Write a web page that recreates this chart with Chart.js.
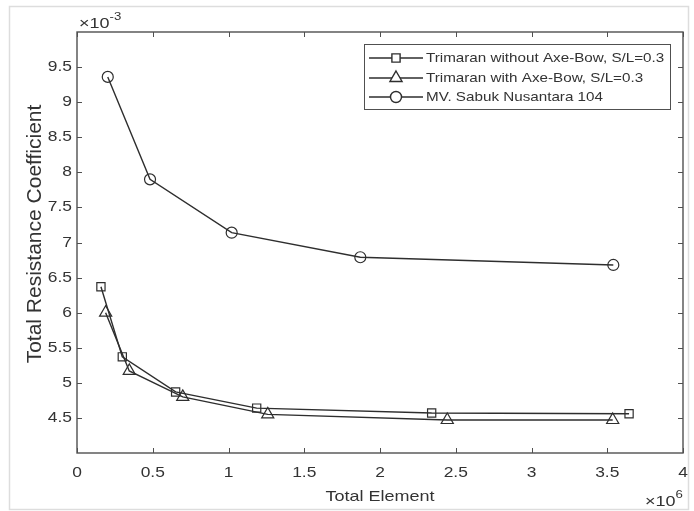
<!DOCTYPE html>
<html>
<head>
<meta charset="utf-8">
<script src="https://cdn.jsdelivr.net/npm/chart.js@4.4.0/dist/chart.umd.min.js"></script>
<style>
  html, body { margin: 0; padding: 0; background: #ffffff; }
  #wrap { width: 694px; height: 511px; }
</style>
</head>
<body>
<div id="wrap"><canvas id="c" width="694" height="511"></canvas></div>
<script>
// Total element count (x 10^6) against total resistance coefficient (x 10^-3)
const elementsWithoutAxeBow = [0.158, 0.299, 0.651, 1.186, 2.341, 3.644];
const ctWithoutAxeBow       = [6.37, 5.37, 4.87, 4.64, 4.57, 4.56];

const elementsWithAxeBow = [0.189, 0.345, 0.698, 1.259, 2.444, 3.536];
const ctWithAxeBow       = [6.00, 5.17, 4.80, 4.55, 4.47, 4.47];

const elementsSabuk = [0.203, 0.482, 1.021, 1.870, 3.540];
const ctSabuk       = [9.36, 7.90, 7.14, 6.79, 6.68];

const seriesNames = [
  'Trimaran without Axe-Bow, S/L=0.3',
  'Trimaran with Axe-Bow, S/L=0.3',
  'MV. Sabuk Nusantara 104'
];

const xTickValues = [0, 0.5, 1, 1.5, 2, 2.5, 3, 3.5, 4];
const xTickLabels = ['0', '0.5', '1', '1.5', '2', '2.5', '3', '3.5', '4'];
const yTickValues = [4.5, 5, 5.5, 6, 6.5, 7, 7.5, 8, 8.5, 9, 9.5];
const yTickLabels = ['4.5', '5', '5.5', '6', '6.5', '7', '7.5', '8', '8.5', '9', '9.5'];

const xTitle = 'Total Element';
const yTitle = 'Total Resistance Coefficient';

const LINE = '#2e2e2e';
const AXIS = '#505050';
const TEXT = '#333333';
const FONT = '"Liberation Sans", Arial, sans-serif';
const SX = 1.2; // horizontal stretch of the lettering

function toPoints(xs, ys) {
  return xs.map((x, i) => ({ x: x, y: ys[i] }));
}

function series(label, xs, ys, style, radius) {
  return {
    label: label,
    data: toPoints(xs, ys),
    showLine: true,
    borderColor: LINE,
    borderWidth: 1.4,
    pointStyle: style,
    pointRadius: radius,
    pointHoverRadius: radius,
    pointBorderColor: LINE,
    pointBorderWidth: 1.2,
    pointBackgroundColor: 'rgba(0,0,0,0)'
  };
}

const datasets = [
  series(seriesNames[0], elementsWithoutAxeBow, ctWithoutAxeBow, 'rect', 5.8),
  series(seriesNames[1], elementsWithAxeBow, ctWithAxeBow, 'triangle', 7),
  series(seriesNames[2], elementsSabuk, ctSabuk, 'circle', 5.5)
];

function text(ctx, str, x, y, align, baseline, size, rotate, sx) {
  ctx.save();
  ctx.translate(x, y);
  if (rotate) {
    ctx.rotate(-Math.PI / 2);
  } else {
    ctx.scale(sx || SX, 1);
  }
  ctx.font = size + 'px ' + FONT;
  ctx.fillStyle = TEXT;
  ctx.textAlign = align;
  ctx.textBaseline = baseline;
  ctx.fillText(str, 0, 0);
  ctx.restore();
}

// "x10^n" multiplier label, anchored at the left end of its baseline
function multiplier(ctx, exp, x, y, size) {
  ctx.save();
  ctx.font = size + 'px ' + FONT;
  const w = ctx.measureText('\u00d710').width * SX;
  ctx.restore();
  text(ctx, '\u00d710', x, y, 'left', 'alphabetic', size, false);
  text(ctx, exp, x + w, y - 8, 'left', 'alphabetic', Math.round(size * 0.75), false);
}

const axesPlugin = {
  id: 'matlabAxes',
  beforeDraw(chart) {
    const ctx = chart.ctx;
    ctx.save();
    ctx.fillStyle = '#ffffff';
    ctx.fillRect(0, 0, chart.width, chart.height);
    ctx.strokeStyle = '#dddddd';
    ctx.lineWidth = 1.5;
    ctx.strokeRect(9.5, 6.5, 679, 503);
    ctx.restore();
  },
  afterDatasetsDraw(chart) {
    const ctx = chart.ctx;
    const a = chart.chartArea;
    const xs = chart.scales.x;
    const ys = chart.scales.y;

    ctx.save();
    ctx.strokeStyle = AXIS;
    ctx.lineWidth = 1.4;
    ctx.strokeRect(a.left, a.top, a.right - a.left, a.bottom - a.top);

    // inward tick marks on all four sides
    const tl = 5;
    ctx.lineWidth = 1;
    ctx.beginPath();
    xTickValues.forEach(v => {
      const px = Math.round(xs.getPixelForValue(v)) + 0.5;
      ctx.moveTo(px, a.bottom); ctx.lineTo(px, a.bottom - tl);
      ctx.moveTo(px, a.top); ctx.lineTo(px, a.top + tl);
    });
    yTickValues.forEach(v => {
      const py = Math.round(ys.getPixelForValue(v)) + 0.5;
      ctx.moveTo(a.left, py); ctx.lineTo(a.left + tl, py);
      ctx.moveTo(a.right, py); ctx.lineTo(a.right - tl, py);
    });
    ctx.stroke();
    ctx.restore();

    // tick labels
    xTickValues.forEach((v, i) => {
      text(ctx, xTickLabels[i], xs.getPixelForValue(v), a.bottom + 24, 'center', 'alphabetic', 14.5, false);
    });
    yTickValues.forEach((v, i) => {
      text(ctx, yTickLabels[i], a.left - 5, ys.getPixelForValue(v), 'right', 'middle', 14.5, false);
    });

    // titles and multipliers
    text(ctx, xTitle, (a.left + a.right) / 2, 501, 'center', 'alphabetic', 15, false);
    text(ctx, yTitle, 41, 234, 'center', 'alphabetic', 21, true);
    multiplier(ctx, '-3', 79, 28, 15);
    multiplier(ctx, '6', 645, 506, 15);

    // legend
    const box = { left: 364.5, top: 44.5, width: 306, height: 65 };
    ctx.save();
    ctx.fillStyle = '#ffffff';
    ctx.fillRect(box.left, box.top, box.width, box.height);
    ctx.strokeStyle = AXIS;
    ctx.lineWidth = 1;
    ctx.strokeRect(box.left, box.top, box.width, box.height);
    ctx.restore();
    const rowY = [58, 78, 97];
    chart.data.datasets.forEach((ds, i) => {
      const y = rowY[i];
      ctx.save();
      ctx.strokeStyle = ds.borderColor;
      ctx.lineWidth = ds.borderWidth;
      ctx.beginPath();
      ctx.moveTo(369, y);
      ctx.lineTo(423, y);
      ctx.stroke();
      ctx.fillStyle = '#ffffff';
      ctx.strokeStyle = ds.pointBorderColor;
      Chart.helpers.drawPoint(ctx, {
        pointStyle: ds.pointStyle,
        radius: ds.pointRadius,
        borderWidth: ds.pointBorderWidth,
        rotation: 0
      }, 396, y);
      ctx.restore();
      text(ctx, ds.label, 426, y, 'left', 'middle', 13, false, 1.17);
    });
  }
};

new Chart(document.getElementById('c'), {
  type: 'scatter',
  data: { datasets: datasets },
  options: {
    responsive: false,
    animation: false,
    devicePixelRatio: 1,
    layout: { padding: { left: 77, right: 11, top: 32, bottom: 58 } },
    scales: {
      x: { type: 'linear', min: 0, max: 4, display: false },
      y: { type: 'linear', min: 4, max: 10, display: false }
    },
    plugins: {
      legend: { display: false },
      tooltip: { enabled: false }
    }
  },
  plugins: [axesPlugin]
});
</script>
</body>
</html>
